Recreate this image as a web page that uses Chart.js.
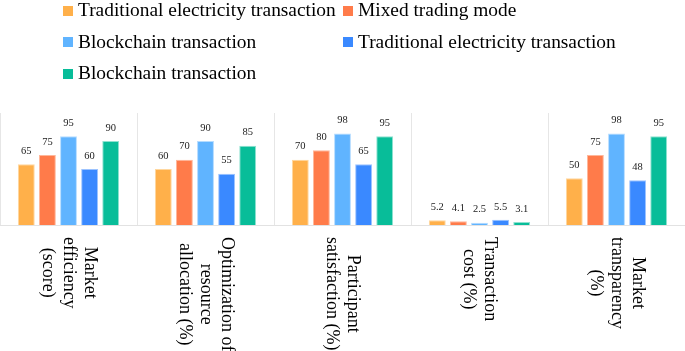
<!DOCTYPE html>
<html>
<head>
<meta charset="utf-8">
<script src="https://cdn.jsdelivr.net/npm/chart.js@4.4.1/dist/chart.umd.min.js"></script>
<style>
  html, body { margin: 0; padding: 0; background: #fff; }
  #wrap { position: relative; width: 685px; height: 351px; }
  #legend {
    position: absolute; left: 63px; top: -1px;
    display: grid; grid-template-columns: 280px auto; row-gap: 10.5px;
    font-family: "Liberation Serif", "Times New Roman", serif; font-size: 19.4px;
    line-height: 21px; color: #000;
  }
  #legend .item { display: flex; align-items: center; white-space: nowrap; }
  #legend .box { width: 10px; height: 10px; margin: 2px 5px 0 0; flex: none; }
</style>
</head>
<body>
<div id="wrap">
  <canvas id="chart" width="685" height="351"></canvas>
  <div id="legend"></div>
</div>
<script>
// ── data ──────────────────────────────────────────
const categories = [
  ["Market", "efficiency", "(score)"],
  ["Optimization of", "resource", "allocation (%)"],
  ["Participant", "satisfaction (%)"],
  ["Transaction", "cost (%)"],
  ["Market", "transparency", "(%)"],
];
const seriesNames = [
  "Traditional electricity transaction",
  "Mixed trading mode",
  "Blockchain transaction",
  "Traditional electricity transaction",
  "Blockchain transaction",
];
const tradValues = [65, 60, 70, 5.2, 50];
const mixedValues = [75, 70, 80, 4.1, 75];
const blockValues = [95, 90, 98, 2.5, 98];
const trad2Values = [60, 55, 65, 5.5, 48];
const block2Values = [90, 85, 95, 3.1, 95];

const fills = ["#FFB04A", "#FF7B4A", "#60B4FF", "#3A89FF", "#08BD99"];
const edges = ["#FFD79E", "#FFB79A", "#B5DCFF", "#9CC3FF", "#8FE2D0"];

const serif = '"Liberation Serif", "Times New Roman", serif';
const allValues = [tradValues, mixedValues, blockValues, trad2Values, block2Values];

// Legend laid out in two aligned columns
const legendEl = document.getElementById("legend");
seriesNames.forEach((name, i) => {
  const item = document.createElement("div");
  item.className = "item";
  item.innerHTML = `<span class="box" style="background:${fills[i]}"></span><span>${name}</span>`;
  legendEl.appendChild(item);
});

// Values above every bar
const valueLabels = {
  id: "valueLabels",
  afterDatasetsDraw(chart) {
    const { ctx } = chart;
    ctx.save();
    ctx.font = `10.5px ${serif}`;
    ctx.fillStyle = "#222";
    ctx.textAlign = "center";
    ctx.textBaseline = "middle";
    chart.data.datasets.forEach((ds, di) => {
      chart.getDatasetMeta(di).data.forEach((bar, i) => {
        ctx.fillText(String(ds.data[i]), bar.x, bar.y - 13);
      });
    });
    ctx.restore();
  },
};

// Category names turned a quarter clockwise, lines centred on the longest one
const turnedLabels = {
  id: "turnedLabels",
  afterDraw(chart) {
    const { ctx } = chart;
    const xScale = chart.scales.x;
    const top = chart.chartArea.bottom + 12;
    const lineGap = 21;
    ctx.save();
    ctx.font = `18px ${serif}`;
    ctx.fillStyle = "#000";
    ctx.textAlign = "center";
    ctx.textBaseline = "middle";
    categories.forEach((lines, i) => {
      const cx = xScale.getPixelForTick(i);
      const maxW = Math.max(...lines.map((l) => ctx.measureText(l).width));
      ctx.save();
      ctx.translate(cx, top);
      ctx.rotate(Math.PI / 2);
      lines.forEach((line, j) => {
        const v = (j - (lines.length - 1) / 2) * lineGap;
        ctx.fillText(line, maxW / 2, v);
      });
      ctx.restore();
    });
    ctx.restore();
  },
};

new Chart(document.getElementById("chart"), {
  type: "bar",
  data: {
    labels: categories.map((c) => c.join(" ")),
    datasets: allValues.map((vals, i) => ({
      label: seriesNames[i],
      data: vals,
      backgroundColor: fills[i],
      borderColor: edges[i],
      borderWidth: 1,
      categoryPercentage: 0.77,
      barPercentage: 0.8,
    })),
  },
  options: {
    responsive: false,
    animation: false,
    layout: { padding: { top: 113, bottom: 126, left: 0, right: 0 } },
    plugins: { legend: { display: false }, tooltip: { enabled: false } },
    scales: {
      x: {
        grid: { offset: true, color: "#e6e6e6", drawTicks: false },
        border: { color: "#e2e2e2", width: 1 },
        ticks: { display: false },
      },
      y: { display: false, min: 0, max: 120 },
    },
  },
  plugins: [valueLabels, turnedLabels],
});
</script>
</body>
</html>
